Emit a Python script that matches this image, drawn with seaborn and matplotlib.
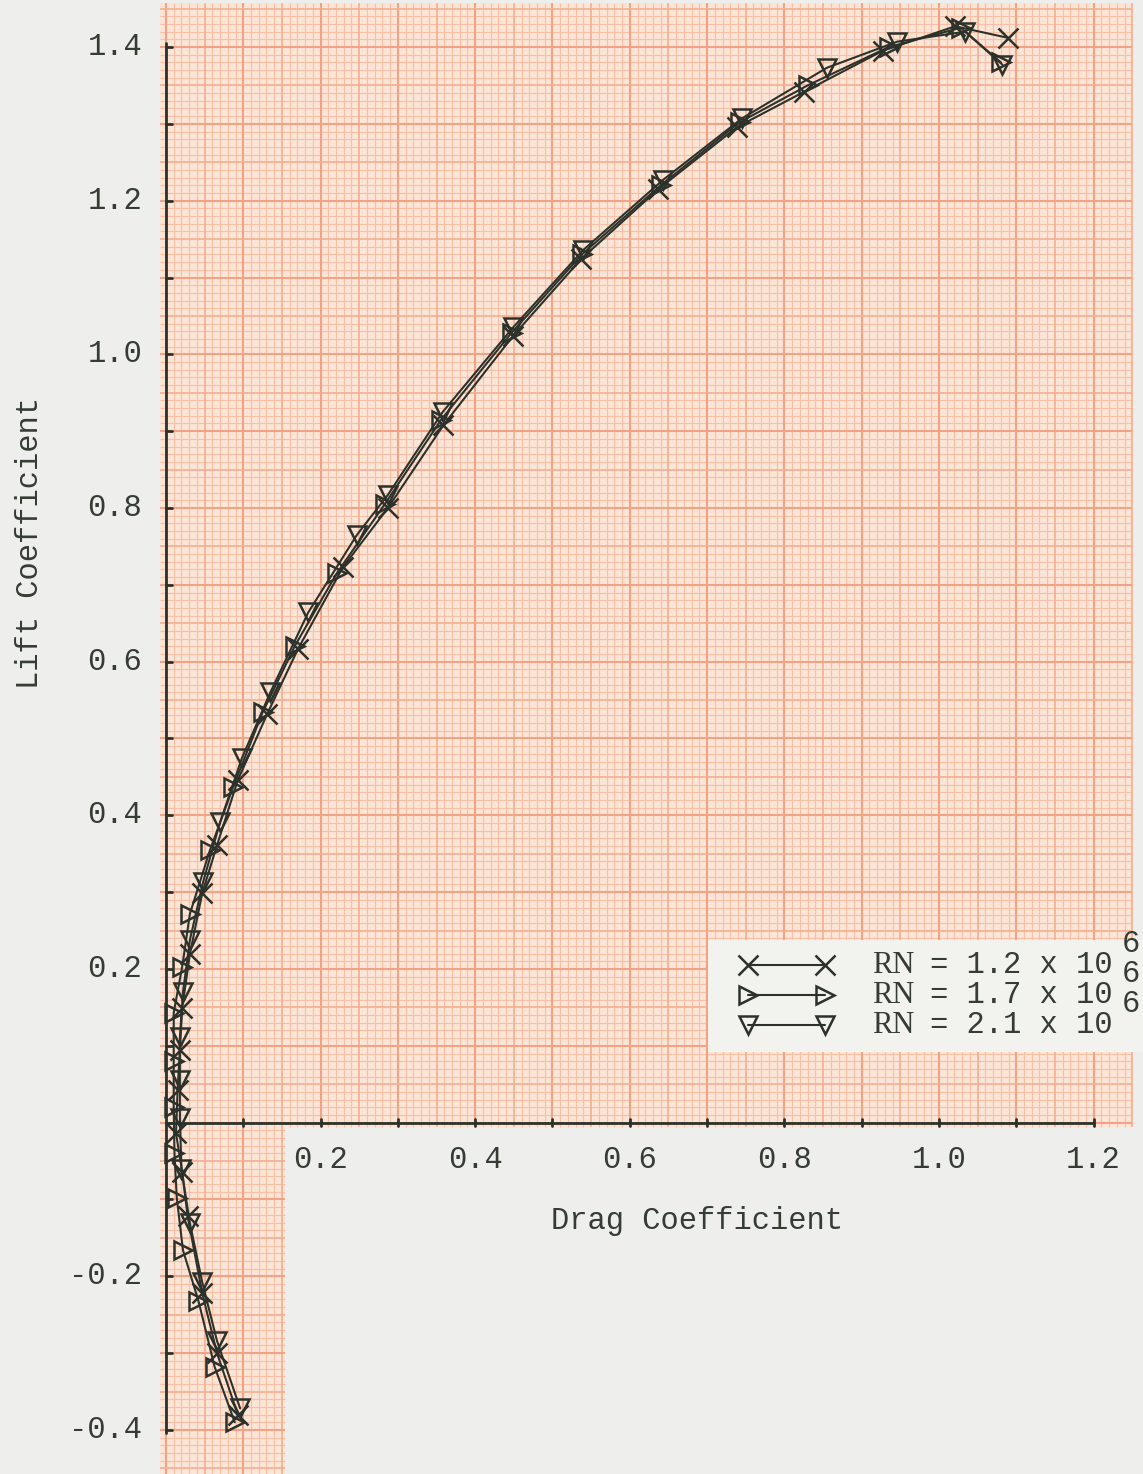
import numpy as np
import pandas as pd
import matplotlib
matplotlib.use("Agg")
import matplotlib.pyplot as plt
import seaborn as sns

# ---------------- data ----------------
cd_rn12 = [0.093, 0.066, 0.047, 0.028, 0.021, 0.013, 0.015, 0.018, 0.021, 0.031, 0.047,
           0.066, 0.093, 0.131, 0.171, 0.229, 0.287, 0.359, 0.449, 0.537, 0.637, 0.739,
           0.826, 0.927, 1.021, 1.089]
cl_rn12 = [-0.380, -0.300, -0.222, -0.122, -0.064, -0.014, 0.042, 0.095, 0.149, 0.220, 0.299,
           0.361, 0.446, 0.532, 0.617, 0.723, 0.800, 0.908, 1.024, 1.124, 1.215, 1.296,
           1.342, 1.395, 1.427, 1.412]

cd_rn17 = [0.089, 0.063, 0.042, 0.022, 0.014, 0.011, 0.010, 0.010, 0.010, 0.021, 0.031,
           0.057, 0.087, 0.125, 0.167, 0.221, 0.283, 0.356, 0.447, 0.538, 0.640, 0.742,
           0.830, 0.935, 1.028, 1.080]
cl_rn17 = [-0.390, -0.318, -0.232, -0.166, -0.098, -0.040, 0.020, 0.080, 0.143, 0.203, 0.272,
           0.355, 0.437, 0.534, 0.621, 0.715, 0.805, 0.915, 1.028, 1.130, 1.220, 1.302,
           1.350, 1.400, 1.425, 1.380]

cd_rn21 = [0.096, 0.066, 0.047, 0.031, 0.020, 0.018, 0.018, 0.018, 0.022, 0.031, 0.048,
           0.070, 0.098, 0.135, 0.184, 0.247, 0.287, 0.358, 0.449, 0.540, 0.643, 0.745,
           0.855, 0.946, 1.034, 1.082]
cl_rn21 = [-0.372, -0.284, -0.208, -0.131, -0.060, 0.006, 0.055, 0.111, 0.170, 0.238, 0.313,
           0.391, 0.474, 0.560, 0.664, 0.765, 0.817, 0.925, 1.035, 1.136, 1.227, 1.307,
           1.373, 1.407, 1.420, 1.377]

series_labels = ["1.2", "1.7", "2.1"]
series_markers = ["x", ">", "v"]

x_ticks = [0.2, 0.4, 0.6, 0.8, 1.0, 1.2]
y_ticks = [-0.4, -0.2, 0.2, 0.4, 0.6, 0.8, 1.0, 1.2, 1.4]

# ---------------- style ----------------
sns.set_theme(style="white")
plt.rcParams["font.family"] = ["Liberation Mono", "DejaVu Sans Mono"]

INK = "#2c322b"
TXT = "#343c33"
PAPER = "#fbe5d6"
FINE = "#f7c1a8"
MID = "#f4ae91"
MAJ = "#f2a385"
BG = "#eeefec"

fig = plt.figure(figsize=(11.43, 14.74), dpi=100, facecolor=BG)
ax = fig.add_axes([0, 0, 1, 1])
ax.set_facecolor(BG)
XL = (-0.2147, 1.2639)
YL = (-0.4573, 1.4612)
ax.set_xlim(*XL)
ax.set_ylim(*YL)
for s in ax.spines.values():
    s.set_visible(False)
ax.set_xticks([]); ax.set_yticks([])
ax.grid(False)

# ---------------- graph paper ----------------
def paper(x0, x1, y0, y1):
    ax.fill_between([x0, x1], y0, y1, color=PAPER, lw=0, zorder=0)
    for k in range(int(np.ceil(x0 * 100)), int(np.floor(x1 * 100)) + 1):
        c, w = (MAJ, 1.5) if k % 10 == 0 else ((MID, 1.2) if k % 5 == 0 else (FINE, 0.85))
        ax.vlines(k / 100, y0, y1, colors=c, lw=w, zorder=0.5 if k % 5 else 0.7)
    for k in range(int(np.ceil(y0 * 100)), int(np.floor(y1 * 100)) + 1):
        c, w = (MAJ, 1.5) if k % 10 == 0 else ((MID, 1.2) if k % 5 == 0 else (FINE, 0.85))
        ax.hlines(k / 100, x0, x1, colors=c, lw=w, zorder=0.5 if k % 5 else 0.7)

paper(-0.008, 1.250, -0.006, 1.457)
paper(-0.008, 0.154, YL[0], -0.006)

# ---------------- axes lines and ticks ----------------
ax.plot([0, 0], [-0.404, 1.405], color=INK, lw=2.0, zorder=2)
ax.plot([0, 1.20], [0, 0], color=INK, lw=2.0, zorder=2)
for v in np.arange(-4, 15) / 10:
    ax.plot([0, 0.008], [v, v], color=INK, lw=2.0, zorder=2)
for v in np.arange(1, 13) / 10:
    ax.plot([v, v], [-0.005, 0.005], color=INK, lw=2.0, zorder=2)

for v in y_ticks:
    ax.text(-0.031, v, f"{v:.1f}", ha="right", va="center", fontsize=22, color=TXT, zorder=3)
for v in x_ticks:
    ax.text(v, -0.049, f"{v:.1f}", ha="center", va="center", fontsize=22, color=TXT, zorder=3)

ax.text(0.687, -0.128, "Drag Coefficient", ha="center", va="center", fontsize=22, color=TXT)
ax.text(-0.176, 0.755, "Lift Coefficient", ha="center", va="center", fontsize=22,
        color=TXT, rotation=90)

# ---------------- data curves ----------------
frames = []
for lab, cd, cl in [("1.2", cd_rn12, cl_rn12), ("1.7", cd_rn17, cl_rn17), ("2.1", cd_rn21, cl_rn21)]:
    frames.append(pd.DataFrame({"CD": cd, "CL": cl, "RN": lab}))
df = pd.concat(frames, ignore_index=True)

for lab, mk in zip(series_labels, series_markers):
    sub = df[df["RN"] == lab]
    sns.lineplot(data=sub, x="CD", y="CL", sort=False, estimator=None, ax=ax,
                 color=INK, lw=1.5, marker=mk, markersize=15 if mk == "x" else 13,
                 markeredgecolor=INK, markerfacecolor="none", markeredgewidth=1.8,
                 legend=False, zorder=4)
ax.set_xlabel(""); ax.set_ylabel("")
ax.set_xlim(*XL)
ax.set_ylim(*YL)

# ---------------- legend box ----------------
ax.fill_between([0.701, 1.27], 0.092, 0.238, color="#f2f2ef", lw=0, zorder=3)
rows = [0.205, 0.166, 0.127]
for lab, mk, yy in zip(series_labels, series_markers, rows):
    ax.plot([0.753, 0.853], [yy, yy], color=INK, lw=1.5, marker=mk,
            markersize=15 if mk == "x" else 13, markeredgecolor=INK,
            markerfacecolor="none", markeredgewidth=1.8, zorder=5)
    ax.text(0.913, yy, "RN", ha="left", va="center", fontsize=22, color=TXT,
            family="Liberation Serif", zorder=5)
    ax.text(0.988, yy, f"= {lab} x 10", ha="left", va="center", fontsize=22, color=TXT, zorder=5)
    ax.text(1.237, yy + 0.027, "6", ha="left", va="center", fontsize=22, color=TXT, zorder=5)

fig.savefig("out.png", dpi=100, facecolor=BG)
